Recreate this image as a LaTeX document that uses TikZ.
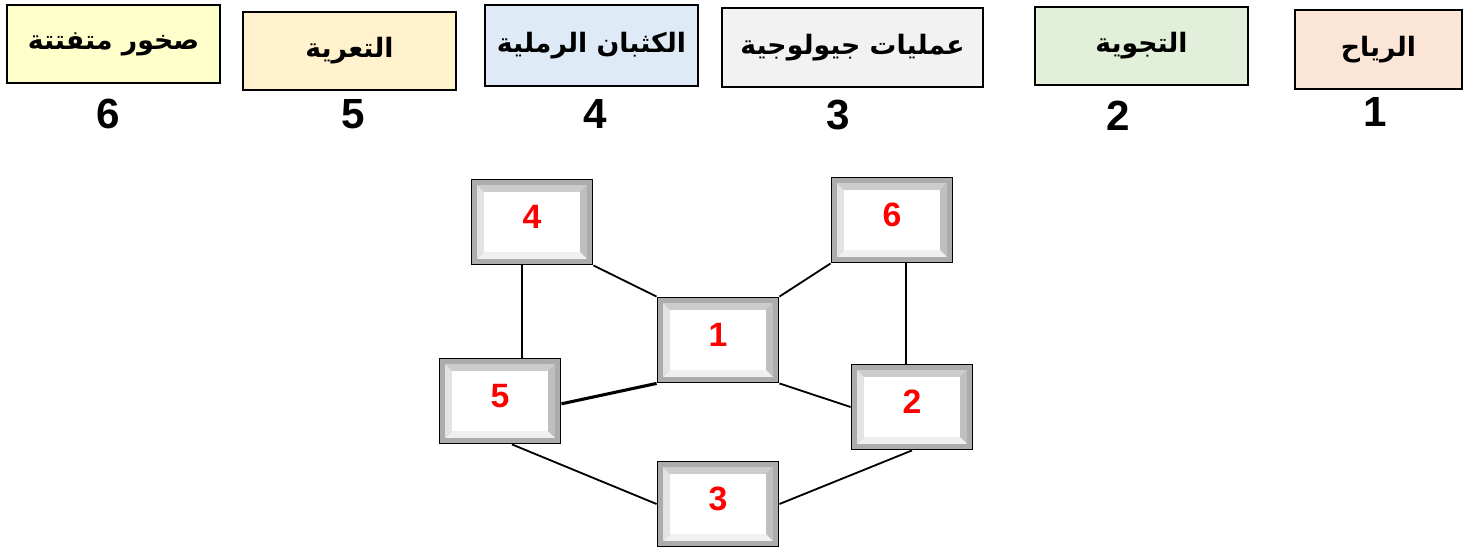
\documentclass[tikz,border=0pt]{standalone}
\usepackage{fontspec}
\setmainfont{Liberation Sans}
\newfontfamily\arabicfont[Script=Arabic]{DejaVu Sans}
\TeXXeTstate=1
\definecolor{boxyellow}{HTML}{FFFFCC}
\definecolor{boxtan}{HTML}{FFF2CC}
\definecolor{boxblue}{HTML}{DEEBF7}
\definecolor{boxgray}{HTML}{F2F2F2}
\definecolor{boxgreen}{HTML}{E2F0D9}
\definecolor{boxpink}{HTML}{FBE5D6}
\tikzset{
  termbox/.style={draw=black, line width=1.1pt, minimum width=5.325cm, minimum height=1.95cm,
    font=\arabicfont\bfseries\fontsize{19}{22}\selectfont},
  termnum/.style={font=\bfseries\fontsize{30}{34}\selectfont},
  bevelbox/.style={draw=black, line width=1.3pt, minimum width=3.025cm, minimum height=2.125cm,
    text=red, text depth=0.25cm, font=\bfseries\fontsize{24}{28}\selectfont,
    path picture={
      \coordinate (bl) at (path picture bounding box.south west);
      \coordinate (tr) at (path picture bounding box.north east);
      \coordinate (tl) at (path picture bounding box.north west);
      \coordinate (br) at (path picture bounding box.south east);
      \fill[gray!65] (bl) rectangle (tr);
      % inner bevel
      \fill[gray!40] ([shift={(4pt,-4pt)}]tl) -- ([shift={(-4pt,-4pt)}]tr) -- ([shift={(-9pt,-9pt)}]tr) -- ([shift={(9pt,-9pt)}]tl) -- cycle;
      \fill[gray!50] ([shift={(-4pt,-4pt)}]tr) -- ([shift={(-4pt,4pt)}]br) -- ([shift={(-9pt,9pt)}]br) -- ([shift={(-9pt,-9pt)}]tr) -- cycle;
      \fill[gray!12] ([shift={(-4pt,4pt)}]br) -- ([shift={(4pt,4pt)}]bl) -- ([shift={(9pt,9pt)}]bl) -- ([shift={(-9pt,9pt)}]br) -- cycle;
      \fill[gray!22] ([shift={(4pt,4pt)}]bl) -- ([shift={(4pt,-4pt)}]tl) -- ([shift={(9pt,-9pt)}]tl) -- ([shift={(9pt,9pt)}]bl) -- cycle;
      \fill[white] ([shift={(9pt,9pt)}]bl) rectangle ([shift={(-9pt,-9pt)}]tr);
    }},
  link/.style={line width=1.3pt}
}

\begin{document}
\begin{tikzpicture}[x=0.025cm, y=-0.025cm]
\useasboundingbox (0,0) rectangle (1468,549);
% key of terms
\node[termbox, fill=boxyellow] (t6) at (113.5,44) {\beginR صخور متفتتة\endR};
\node[termbox, fill=boxtan] (t5) at (349.5,51) {\beginR التعرية\endR};
\node[termbox, fill=boxblue, minimum height=2.025cm] (t4) at (591.5,45.5) {\beginR الكثبان الرملية\endR};
\node[termbox, fill=boxgray, minimum width=6.525cm, minimum height=1.975cm] (t3) at (852.5,47.5) {\beginR عمليات جيولوجية\endR};
\node[termbox, fill=boxgreen] (t2) at (1141.5,46) {\beginR التجوية\endR};
\node[termbox, fill=boxpink, minimum width=4.175cm, minimum height=1.975cm] (t1) at (1378.5,49.5) {\beginR الرياح\endR};
\node[termnum] (n6) at (108,114) {6};
\node[termnum] (n5) at (353,114) {5};
\node[termnum] (n4) at (595,114) {4};
\node[termnum] (n3) at (838,115) {3};
\node[termnum] (n2) at (1118,116) {2};
\node[termnum] (n1) at (1375,112) {1};
% the graph
\node[bevelbox] (g4) at (532,222) {4};
\node[bevelbox] (g6) at (892,220) {6};
\node[bevelbox] (g1) at (718,340) {1};
\node[bevelbox] (g5) at (500,401) {5};
\node[bevelbox] (g2) at (912,407) {2};
\node[bevelbox] (g3) at (718,504) {3};
\draw[link] ([xshift=-0.25cm]g4.south) -- ([xshift=-0.25cm]g4.south |- g5.north);
\draw[link] (g4.south east) -- (g1.north west);
\draw[link] (g6.south west) -- (g1.north east);
\draw[link] ([xshift=0.35cm]g6.south) -- ([xshift=0.35cm]g6.south |- g2.north);
\draw[link, line width=2.2pt] (g1.south west) -- ([yshift=-0.07cm]g5.east);
\draw[link] (g1.south east) -- (g2.west);
\draw[link] ([xshift=0.3cm]g5.south) -- (g3.west);
\draw[link] (g2.south) -- (g3.east);
\end{tikzpicture}
\end{document}
